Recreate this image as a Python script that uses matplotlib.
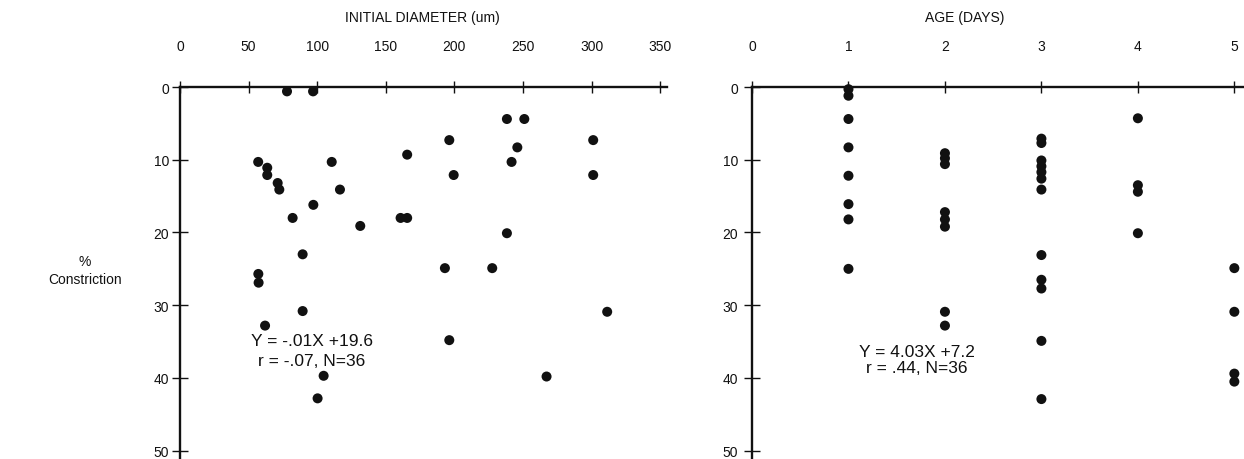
#!/usr/bin/env python3
"""Constriction vs initial diameter and vs age, two scatter panels.

Output: out.png
"""
import matplotlib
matplotlib.use("Agg")
import matplotlib.pyplot as plt

plt.rcParams["font.family"] = ["Liberation Sans", "DejaVu Sans"]

INK = "#111111"

# left panel: initial diameter (um) vs % constriction
diameter = [78, 97, 57, 63.6, 63.6, 71.2, 72.4, 97.2, 82.1, 89.4,
            57.1, 57.3, 110.6, 116.6, 131.4, 160.8, 165.6, 165.6, 238.3, 251,
            196.3, 301.2, 245.9, 241.7, 199.5, 301.2, 238.3, 193.1, 227.6, 89.4,
            62, 104.7, 100.3, 311.4, 196.3, 267.2]
constr_diam = [0.6, 0.6, 10.3, 11.1, 12.1, 13.2, 14.1, 16.2, 18.0, 23.0,
               25.7, 26.9, 10.3, 14.1, 19.1, 18.0, 18.0, 9.3, 4.4, 4.4,
               7.3, 7.3, 8.3, 10.3, 12.1, 12.1, 20.1, 24.9, 24.9, 30.8,
               32.8, 39.7, 42.8, 30.9, 34.8, 39.8]

# right panel: age (days) vs % constriction
age = [1] * 8 + [2] * 8 + [3] * 12 + [4] * 4 + [5] * 4
constr_age = [0.3, 1.2, 4.4, 8.3, 12.2, 16.1, 18.2, 25.0,
              9.1, 9.8, 10.6, 17.2, 18.2, 19.2, 30.9, 32.8,
              7.1, 7.7, 10.1, 10.9, 11.7, 12.6, 14.1, 23.1, 26.5, 27.7, 34.9, 42.9,
              4.3, 13.5, 14.4, 20.1,
              24.9, 30.9, 39.4, 40.5]

diam_ticks = [0, 50, 100, 150, 200, 250, 300, 350]
age_ticks = [0, 1, 2, 3, 4, 5]
y_ticks = [0, 10, 20, 30, 40, 50]

W, H = 1244, 460


def style(ax, xticks, xlim, ypad):
    ax.set_xlim(*xlim)
    ax.set_ylim(51, 0)
    ax.xaxis.tick_top()
    ax.set_xticks(xticks)
    ax.set_yticks(y_ticks)
    for side in ("right", "bottom"):
        ax.spines[side].set_visible(False)
    for side in ("top", "left"):
        ax.spines[side].set_linewidth(1.7)
        ax.spines[side].set_color(INK)
    ax.tick_params(axis="x", direction="inout", length=9, width=1.0,
                   pad=20, labelsize=10, colors=INK)
    ax.tick_params(axis="y", direction="inout", length=12, width=1.0,
                   pad=ypad, labelsize=10, colors=INK)
    ax.set_facecolor("white")


fig = plt.figure(figsize=(W / 100, H / 100), dpi=100)
fig.patch.set_facecolor("white")

top = 1 - 88 / H
bot = 1 - 459 / H

ax1 = fig.add_axes([180 / W, bot, 487 / W, top - bot])
style(ax1, diam_ticks, (0, 355), 2)
ax1.scatter(diameter, constr_diam, s=52, color=INK, edgecolors="none",
            clip_on=False, zorder=3)
ax1.text(96, 34.9, "Y = -.01X +19.6", ha="center", va="center",
         fontsize=12.5, color=INK)
ax1.text(96, 37.6, "r = -.07, N=36", ha="center", va="center",
         fontsize=12.5, color=INK)

ax2 = fig.add_axes([752 / W, bot, 492 / W, top - bot])
style(ax2, age_ticks, (0, 5.1), 4)
ax2.scatter(age, constr_age, s=52, color=INK, edgecolors="none",
            clip_on=False, zorder=3)
ax2.text(1.71, 36.4, "Y = 4.03X +7.2", ha="center", va="center",
         fontsize=12.5, color=INK)
ax2.text(1.71, 38.6, "r = .44, N=36", ha="center", va="center",
         fontsize=12.5, color=INK)

fig.text(422 / W, 1 - 18 / H, "INITIAL DIAMETER (um)", ha="center",
         va="center", fontsize=10, color=INK)
fig.text(965 / W, 1 - 18 / H, "AGE (DAYS)", ha="center",
         va="center", fontsize=10, color=INK)
fig.text(85 / W, 1 - 262 / H, "%", ha="center", va="center",
         fontsize=10, color=INK)
fig.text(85 / W, 1 - 280 / H, "Constriction", ha="center", va="center",
         fontsize=10, color=INK)

fig.savefig("out.png", dpi=100, facecolor="white")
plt.close(fig)
